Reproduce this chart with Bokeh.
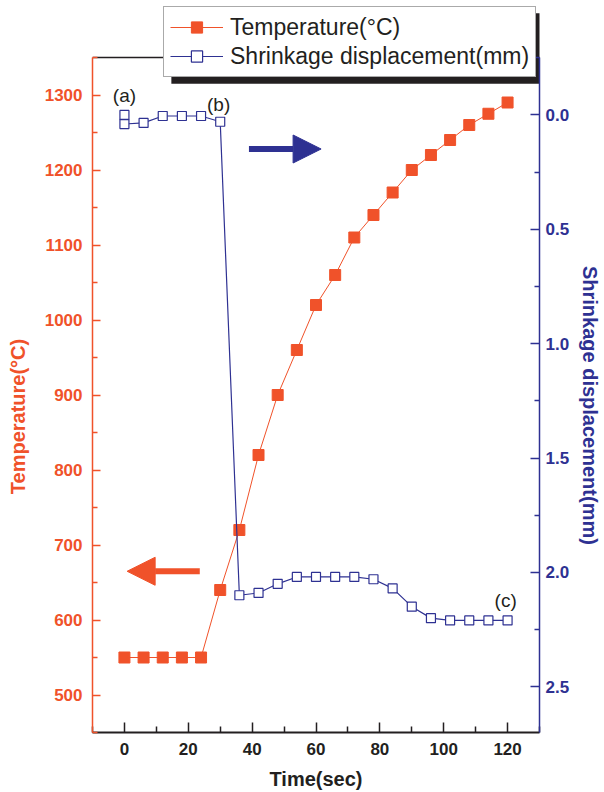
from bokeh.plotting import figure
from bokeh.models import (Range1d, LinearAxis, FixedTicker, Legend, LegendItem,
                          Arrow, NormalHead, PrintfTickFormatter)
from bokeh.core.properties import value
from bokeh.embed import file_html
from bokeh.resources import INLINE

# ---------------- data ----------------
time_temp = [0, 6, 12, 18, 24, 30, 36, 42, 48, 54, 60, 66, 72, 78, 84, 90, 96, 102, 108, 114, 120]
temperature = [550, 550, 550, 550, 550, 640, 720, 820, 900, 960, 1020, 1060, 1110, 1140,
               1170, 1200, 1220, 1240, 1260, 1275, 1290]

time_disp = [0, 0, 6, 12, 18, 24, 30, 36, 42, 48, 54, 60, 66, 72, 78, 84, 90, 96, 102, 108, 114, 120]
displacement = [0.0, 0.04, 0.035, 0.005, 0.005, 0.005, 0.03, 2.10, 2.09, 2.05, 2.02, 2.02, 2.02,
                2.02, 2.03, 2.07, 2.15, 2.20, 2.21, 2.21, 2.21, 2.21]

x_ticks = [0, 20, 40, 60, 80, 100, 120]
x_minor = [-10, 10, 30, 50, 70, 90, 110, 130]
temp_ticks = [500, 600, 700, 800, 900, 1000, 1100, 1200, 1300]
temp_minor = [450, 550, 650, 750, 850, 950, 1050, 1150, 1250, 1350]
disp_ticks = [0.0, 0.5, 1.0, 1.5, 2.0, 2.5]
disp_minor = [-0.25, 0.25, 0.75, 1.25, 1.75, 2.25]

# axis extents (data units)
x_lo, x_hi = -10, 130
temp_lo, temp_hi = 450, 1350
disp_lo, disp_hi = -0.25, 2.70

point_labels = ["(a)", "(b)", "(c)"]
point_label_x = [0, 29.5, 119.4]
point_label_y = [1300, 1287, 626]

ORANGE = "#F0522A"
BLUE = "#2E3192"
BLACK = "#231F20"
FONT = "Liberation Sans"
NB = "\u00a0"

# frame reaches the top of the canvas so the legend (which overlaps the
# top border) is not clipped; the visible axes are bounded to the data extents
p = figure(width=604, height=792, output_backend="svg", toolbar_location=None, title=None,
           x_range=Range1d(x_lo, x_hi), y_range=Range1d(temp_lo, 1426),
           min_border_left=92, min_border_right=65, min_border_top=0, min_border_bottom=60)
p.extra_y_ranges = {"disp": Range1d(disp_hi, -0.50)}
p.xgrid.visible = False
p.ygrid.visible = False
p.outline_line_color = None
p.background_fill_color = "white"
p.border_fill_color = "white"

# legend drop shadow (drawn as a glyph under the legend)
p.quad(left=[14.7], right=[131.0], bottom=[1315], top=[1409],
       fill_color=BLACK, fill_alpha=1, line_color=None)

# top border of the plot box
p.segment(x0=[x_lo], y0=[temp_hi], x1=[x_hi], y1=[temp_hi], line_color=BLACK, line_width=1.5)

# bottom axis
xa = p.xaxis[0]
xa.ticker = FixedTicker(ticks=x_ticks, minor_ticks=x_minor)
xa.axis_line_color = BLACK
xa.axis_line_width = 2
xa.major_tick_in = 10
xa.major_tick_out = 0
xa.minor_tick_in = 6
xa.minor_tick_out = 0
xa.major_tick_line_color = BLACK
xa.major_tick_line_width = 1.5
xa.minor_tick_line_color = BLACK
xa.minor_tick_line_width = 1.5
xa.major_label_text_font = FONT
xa.major_label_text_font_style = "bold"
xa.major_label_text_font_size = "17px"
xa.major_label_text_color = BLACK
xa.major_label_standoff = 10
xa.axis_label = "Time(sec)"
xa.axis_label_text_font = FONT
xa.axis_label_text_font_style = "bold"
xa.axis_label_text_font_size = "20px"
xa.axis_label_text_color = BLACK
xa.axis_label_standoff = 10

# left axis
ya = p.yaxis[0]
ya.bounds = (temp_lo, temp_hi)
ya.ticker = FixedTicker(ticks=temp_ticks, minor_ticks=temp_minor)
ya.axis_line_color = ORANGE
ya.axis_line_width = 1.5
ya.major_tick_in = 8
ya.major_tick_out = 0
ya.minor_tick_in = 5
ya.minor_tick_out = 0
ya.major_tick_line_color = ORANGE
ya.major_tick_line_width = 1.5
ya.minor_tick_line_color = ORANGE
ya.minor_tick_line_width = 1.5
ya.major_label_text_font = FONT
ya.major_label_text_font_style = "bold"
ya.major_label_text_font_size = "17px"
ya.major_label_text_color = ORANGE
ya.major_label_standoff = 10
# trailing no-break spaces move the visible label down along the axis
ya.axis_label = "Temperature(°C)" + NB * 18
ya.axis_label_text_font = FONT
ya.axis_label_text_font_style = "bold"
ya.axis_label_text_font_size = "20px"
ya.axis_label_text_color = ORANGE
ya.axis_label_standoff = 13

# right axis
ra = LinearAxis(y_range_name="disp", bounds=(disp_lo, disp_hi),
                ticker=FixedTicker(ticks=disp_ticks, minor_ticks=disp_minor),
                formatter=PrintfTickFormatter(format="%.1f"))
ra.axis_line_color = BLUE
ra.axis_line_width = 1.5
ra.major_tick_in = 9
ra.major_tick_out = 0
ra.minor_tick_in = 5
ra.minor_tick_out = 0
ra.major_tick_line_color = BLUE
ra.major_tick_line_width = 1.5
ra.minor_tick_line_color = BLUE
ra.minor_tick_line_width = 1.5
ra.major_label_text_font = FONT
ra.major_label_text_font_style = "bold"
ra.major_label_text_font_size = "17px"
ra.major_label_text_color = BLUE
ra.major_label_standoff = 6
# leading no-break spaces move the visible label down along the axis
ra.axis_label = NB * 14 + "Shrinkage displacement(mm)"
ra.axis_label_text_font = FONT
ra.axis_label_text_font_style = "bold"
ra.axis_label_text_font_size = "20px"
ra.axis_label_text_color = BLUE
ra.axis_label_standoff = 7
p.add_layout(ra, "right")

# series
l1 = p.line(time_temp, temperature, line_color=ORANGE, line_width=1)
s1 = p.scatter(time_temp, temperature, marker="square", size=11,
               fill_color=ORANGE, line_color=ORANGE, line_width=1)
l2 = p.line(time_disp, displacement, y_range_name="disp", line_color=BLUE, line_width=1.2)
s2 = p.scatter(time_disp, displacement, y_range_name="disp", marker="square", size=9,
               fill_color="white", line_color=BLUE, line_width=1.2)

# point annotations
p.text(x=point_label_x, y=point_label_y, text=point_labels, text_font=value(FONT),
       text_font_size="19px", text_align="center", text_baseline="middle", text_color=BLACK)

# arrows
p.add_layout(Arrow(end=NormalHead(size=28, fill_color=BLUE, line_color=BLUE, line_width=1),
                   x_start=39.0, y_start=1228, x_end=61.6, y_end=1228,
                   line_color=BLUE, line_width=6))
p.add_layout(Arrow(end=NormalHead(size=28, fill_color=ORANGE, line_color=ORANGE, line_width=1),
                   x_start=23.6, y_start=665, x_end=0.85, y_end=665,
                   line_color=ORANGE, line_width=6))

legend = Legend(items=[LegendItem(label="Temperature(°C)", renderers=[l1, s1]),
                       LegendItem(label="Shrinkage displacement(mm)", renderers=[l2, s2])],
                location=(71, 655), orientation="vertical",
                label_text_font=FONT, label_text_font_size="23px", label_text_color=BLACK,
                glyph_width=53, glyph_height=28, label_height=28, label_standoff=7,
                padding=6, spacing=1, margin=0,
                border_line_color="#555555", border_line_width=1,
                background_fill_color="white", background_fill_alpha=1)
p.add_layout(legend, "center")

open("out.html", "w").write(file_html(p, INLINE))
